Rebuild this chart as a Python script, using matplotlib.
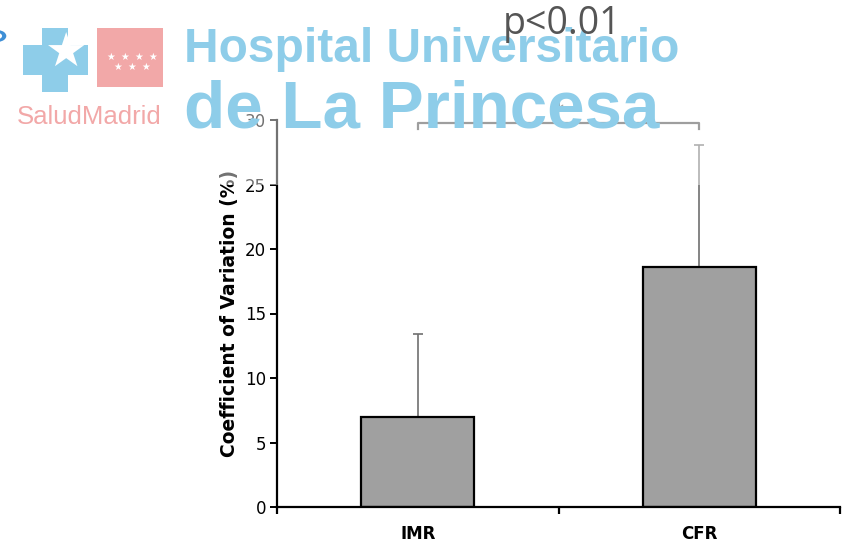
import matplotlib
matplotlib.use("Agg")
import matplotlib.pyplot as plt
from matplotlib.patches import Rectangle, Polygon, Wedge

# Data
categories = ["IMR", "CFR"]
cv_mean = [7.0, 18.6]
cv_sd = [6.4, 9.5]
y_ticks = [0, 5, 10, 15, 20, 25, 30]
p_label = "p<0.01"

W, H = 846, 542
fig = plt.figure(figsize=(W / 100, H / 100), dpi=100)
plt.rcParams["font.family"] = ["DejaVu Sans"]


def fx(px):
    return px / W


def fy(py):
    return 1 - py / H


ax = fig.add_axes([fx(277), fy(507), fx(840) - fx(277), fy(120) - fy(507)])
x = list(range(len(categories)))
ax.bar(x, cv_mean, width=0.4, color="#a0a0a0", edgecolor="black", linewidth=1.6, zorder=2)
ax.errorbar(x, cv_mean, yerr=[[0] * len(cv_sd), cv_sd], fmt="none", ecolor="#707070",
            elinewidth=1.2, capsize=3.5, capthick=1.2, zorder=1)

ax.set_xlim(-0.5, 1.5)
ax.set_ylim(0, 30)
ax.set_yticks(y_ticks)
ax.tick_params(axis="y", direction="out", length=5, width=1.4, labelsize=12, pad=3)
ax.set_xticks(x)
ax.set_xticklabels(categories, fontweight="bold", fontsize=12)
ax.tick_params(axis="x", which="major", length=0, pad=13)
ax.set_xticks([-0.5, 0.5, 1.5], minor=True)
ax.tick_params(axis="x", which="minor", direction="out", length=5, width=1.6)
for s in ["top", "right"]:
    ax.spines[s].set_visible(False)
for s in ["left", "bottom"]:
    ax.spines[s].set_linewidth(1.6)
ax.set_ylabel("Coefficient of Variation (%)", fontweight="bold", fontsize=13.5, labelpad=4)

# veil behind the hospital logo
fig.patches.append(Rectangle((0, fy(185)), fx(720), 1 - fy(185), transform=fig.transFigure,
                             facecolor="white", alpha=0.45, edgecolor="none", zorder=5))

blue = "#8ecde9"
pink = "#f2a8a8"

# SaludMadrid emblem: blue cross with a white star, red square with stars
cross = [(42, 28), (68, 28), (68, 45), (88, 45), (88, 75), (68, 75), (68, 92), (42, 92),
         (42, 75), (23, 75), (23, 45), (42, 45)]
fig.patches.append(Polygon([(fx(a), fy(b)) for a, b in cross], closed=True,
                           transform=fig.transFigure, facecolor=blue, edgecolor="none", zorder=6))
fig.text(fx(66), fy(54), "\u2605", color="white", fontsize=34, ha="center", va="center",
         zorder=7)
fig.patches.append(Rectangle((fx(97), fy(87)), fx(163) - fx(97), fy(28) - fy(87),
                             transform=fig.transFigure, facecolor=pink, edgecolor="none",
                             zorder=6))
for sx, sy in [(111, 57), (125, 57), (139, 57), (153, 57), (118, 67), (132, 67), (146, 67)]:
    fig.text(fx(sx), fy(sy), "\u2605", color="white", fontsize=7, ha="center", va="center",
             zorder=7)
fig.text(fx(17), fy(124), "SaludMadrid", color=pink, fontsize=18.5, family="Liberation Sans",
         ha="left", va="baseline", zorder=7)

# sliver of a neighbouring mark at the left edge
fig.patches.append(Wedge((fx(-3), fy(36)), 0.011, -80, 80, width=0.005,
                         transform=fig.transFigure, facecolor="#3f8fd6", edgecolor="none",
                         zorder=7))

fig.text(fx(184), fy(62), "Hospital Universitario", color=blue, fontsize=34.5,
         fontweight="bold", family="Liberation Sans", ha="left", va="baseline", zorder=7)
fig.text(fx(184), fy(128), "de La Princesa", color=blue, fontsize=48.5,
         fontweight="bold", family="Liberation Sans", ha="left", va="baseline", zorder=7)

# significance bracket
ax.plot([0, 0, 1, 1], [29.3, 29.8, 29.8, 29.3], color="#505050", lw=1.6, clip_on=False,
        zorder=10)
ax.text(0.5, 30.0, "*", ha="center", va="bottom", fontsize=13, color="#404040", zorder=10,
        clip_on=False)
fig.text(fx(562), fy(34), p_label, color="#555555", fontsize=27, family="Open Sans",
         ha="center", va="baseline", zorder=10)

fig.savefig("out.png", dpi=100)
